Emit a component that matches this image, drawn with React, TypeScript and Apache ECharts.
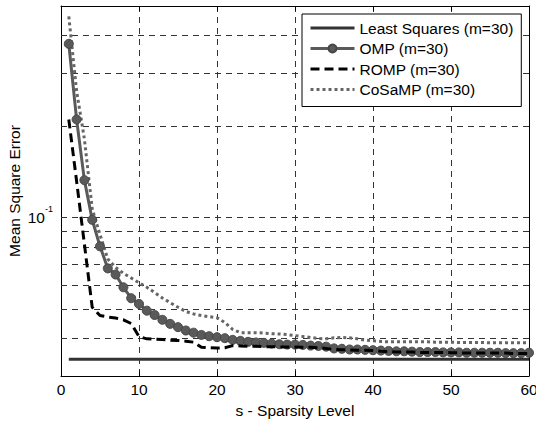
import React, { useEffect, useRef } from 'react';
import * as echarts from 'echarts';

const sLevels = [
  1, 2, 3, 4, 5, 6, 7, 8, 9, 10, 11, 12, 13, 14, 15, 16, 17, 18, 19, 20,
  21, 22, 23, 24, 25, 26, 27, 28, 29, 30, 31, 32, 33, 34, 35, 36, 37, 38, 39, 40,
  41, 42, 43, 44, 45, 46, 47, 48, 49, 50, 51, 52, 53, 54, 55, 56, 57, 58, 59, 60,
];

const lsValues = [
  0.0341, 0.0341, 0.0341, 0.0341, 0.0341, 0.0341, 0.0341, 0.0341, 0.0341, 0.0341,
  0.0341, 0.0341, 0.0341, 0.0341, 0.0341, 0.0341, 0.0341, 0.0341, 0.0341, 0.0341,
  0.0341, 0.0341, 0.0341, 0.0341, 0.0341, 0.0341, 0.0341, 0.0341, 0.0341, 0.0341,
  0.0341, 0.0341, 0.0341, 0.0341, 0.0341, 0.0341, 0.0341, 0.0341, 0.0341, 0.0341,
  0.0341, 0.0341, 0.0341, 0.0341, 0.0341, 0.0341, 0.0341, 0.0341, 0.0341, 0.0341,
  0.0341, 0.0341, 0.0341, 0.0341, 0.0341, 0.0341, 0.0341, 0.0341, 0.0341, 0.0341,
];

const ompValues = [
  0.375, 0.211, 0.133, 0.0984, 0.0804, 0.068, 0.0649, 0.0589, 0.0542, 0.0519,
  0.0493, 0.0477, 0.046, 0.0446, 0.0435, 0.0424, 0.0417, 0.041, 0.0406, 0.0403,
  0.04, 0.0395, 0.0392, 0.0389, 0.0387, 0.0386, 0.0384, 0.0382, 0.0381, 0.0381,
  0.038, 0.0378, 0.0377, 0.0375, 0.037, 0.0369, 0.0367, 0.0367, 0.0366, 0.0365,
  0.0364, 0.0363, 0.0362, 0.0362, 0.0361, 0.036, 0.036, 0.036, 0.0359, 0.0359,
  0.0359, 0.0358, 0.0358, 0.0358, 0.0358, 0.0358, 0.0357, 0.0357, 0.0357, 0.0358,
];

const rompValues = [
  0.211, 0.132, 0.0818, 0.0506, 0.0475, 0.047, 0.0466, 0.046, 0.0447, 0.0405,
  0.0398, 0.0397, 0.0396, 0.0394, 0.0393, 0.0391, 0.0388, 0.0373, 0.0372, 0.0371,
  0.0372, 0.0378, 0.0377, 0.0376, 0.0376, 0.0375, 0.0375, 0.0374, 0.0374, 0.0374,
  0.0373, 0.0373, 0.0372, 0.037, 0.0367, 0.0366, 0.0366, 0.0365, 0.0365, 0.0364,
  0.0362, 0.0361, 0.036, 0.036, 0.036, 0.0359, 0.0359, 0.0359, 0.0359, 0.0358,
  0.0358, 0.0357, 0.0357, 0.0357, 0.0357, 0.0357, 0.0357, 0.0356, 0.0356, 0.0356,
];

const cosampValues = [
  0.462, 0.262, 0.182, 0.107, 0.0879, 0.073, 0.0685, 0.0655, 0.0632, 0.061,
  0.0589, 0.0566, 0.0543, 0.0524, 0.0506, 0.049, 0.0481, 0.0475, 0.0471, 0.0467,
  0.0451, 0.0428, 0.0417, 0.0417, 0.0417, 0.0416, 0.0414, 0.0413, 0.0411, 0.0408,
  0.0405, 0.0402, 0.0399, 0.0398, 0.0401, 0.0402, 0.0401, 0.0398, 0.0394, 0.0392,
  0.039, 0.0389, 0.0389, 0.0389, 0.0389, 0.0389, 0.0389, 0.0388, 0.0388, 0.0388,
  0.0387, 0.0387, 0.0387, 0.0387, 0.0386, 0.0386, 0.0386, 0.0386, 0.0386, 0.0386,
];

const seriesNames = ['Least Squares (m=30)', 'OMP (m=30)', 'ROMP (m=30)', 'CoSaMP (m=30)'];
const yGridValues = [0.04, 0.05, 0.06, 0.07, 0.08, 0.09, 0.1, 0.2, 0.3, 0.4];
const yLabeledValue = 0.1;
const xMin = 0;
const xMax = 60;
const xInterval = 10;
const yMin = 0.03;
const yMax = 0.5;

export default function App() {
  const ref = useRef<HTMLDivElement>(null);

  useEffect(() => {
    if (!ref.current) return;
    const chart = echarts.init(ref.current, null, { renderer: 'svg' });
    const font = '"Liberation Sans", Arial, Helvetica, sans-serif';
    const fs = 15.5;
    const pair = (vals: number[]) => vals.map((v, i) => [sLevels[i], v]);
    const gridDash = { color: '#333', width: 1, type: [6, 5] as number[] };
    const axisLineStyle = { lineStyle: { color: '#000', width: 1 }, onZero: false };
    const tickStyle = { inside: true, length: 5, lineStyle: { color: '#000', width: 1 } };
    const noSymbol = { opacity: 0 };

    chart.setOption({
      animation: false,
      backgroundColor: '#fff',
      textStyle: { fontFamily: font },
      grid: { left: 61, top: 6, right: 7, bottom: 45, containLabel: false, outerBoundsMode: 'none' },
      xAxis: [
        {
          type: 'value',
          min: xMin,
          max: xMax,
          interval: xInterval,
          position: 'bottom',
          name: 's - Sparsity Level',
          nameLocation: 'middle',
          nameGap: 26,
          nameMoveOverlap: false,
          nameTextStyle: { fontSize: fs, color: '#000', fontFamily: font },
          axisLine: axisLineStyle,
          axisTick: tickStyle,
          axisLabel: { fontSize: fs, color: '#000', margin: 5, fontFamily: font },
          splitLine: { show: true, lineStyle: gridDash },
        },
        {
          type: 'value',
          min: xMin,
          max: xMax,
          interval: xInterval,
          position: 'top',
          axisLine: axisLineStyle,
          axisTick: tickStyle,
          axisLabel: { show: false },
          splitLine: { show: false },
        },
      ],
      yAxis: [
        {
          type: 'log',
          logBase: 10,
          min: yMin,
          max: yMax,
          position: 'left',
          name: 'Mean Square Error',
          nameLocation: 'middle',
          nameGap: 39,
          nameMoveOverlap: false,
          nameTextStyle: { fontSize: fs, color: '#000', fontFamily: font },
          axisLine: axisLineStyle,
          axisTick: tickStyle,
          axisLabel: {
            margin: 8,
            color: '#000',
            fontFamily: font,
            formatter: (v: number) =>
              Math.abs(v - yLabeledValue) < 1e-9 ? '{b|10}{s|-1}' : '',
            rich: {
              b: { fontSize: fs, lineHeight: 26, color: '#000', fontFamily: font },
              s: { fontSize: 9, lineHeight: 10, verticalAlign: 'top', color: '#000', fontFamily: font },
            },
          },
          splitLine: { show: false },
        },
        {
          type: 'log',
          logBase: 10,
          min: yMin,
          max: yMax,
          position: 'right',
          axisLine: axisLineStyle,
          axisTick: tickStyle,
          axisLabel: { show: false },
          splitLine: { show: false },
        },
      ],
      legend: {
        data: [
          { name: seriesNames[0], itemStyle: noSymbol },
          { name: seriesNames[1] },
          { name: seriesNames[2], itemStyle: noSymbol },
          { name: seriesNames[3], itemStyle: noSymbol },
        ],
        orient: 'vertical',
        left: 302,
        top: 14,
        backgroundColor: '#fff',
        borderColor: '#000',
        borderWidth: 1,
        borderRadius: 0,
        padding: [6, 8, 9, 7],
        itemGap: 4.5,
        itemWidth: 44,
        itemHeight: 10,
        lineStyle: { width: 3 },
        textStyle: { fontSize: fs, color: '#000', fontFamily: font },
        z: 20,
      },
      series: [
        {
          name: 'grid',
          type: 'line',
          data: pair(lsValues),
          symbol: 'none',
          silent: true,
          lineStyle: { opacity: 0, width: 0 },
          z: 1,
          markLine: {
            silent: true,
            z: 1,
            symbol: ['none', 'none'],
            label: { show: false },
            lineStyle: gridDash,
            emphasis: { disabled: true },
            data: yGridValues.map((v) => ({ yAxis: v })),
          },
        },
        {
          name: seriesNames[0],
          type: 'line',
          data: pair(lsValues),
          symbol: 'none',
          lineStyle: { color: '#333', width: 3 },
          itemStyle: { color: '#333' },
          z: 6,
        },
        {
          name: seriesNames[1],
          type: 'line',
          data: pair(ompValues),
          symbol: 'circle',
          symbolSize: 9,
          lineStyle: { color: '#5a5a5a', width: 3 },
          itemStyle: { color: '#5a5a5a', borderColor: '#474747', borderWidth: 1 },
          z: 7,
        },
        {
          name: seriesNames[2],
          type: 'line',
          data: pair(rompValues),
          symbol: 'none',
          lineStyle: { color: '#000', width: 3, type: [9, 5] },
          itemStyle: { color: '#000' },
          z: 8,
        },
        {
          name: seriesNames[3],
          type: 'line',
          data: pair(cosampValues),
          symbol: 'none',
          lineStyle: { color: '#666', width: 3, type: [3, 3] },
          itemStyle: { color: '#666' },
          z: 6,
        },
      ],
    });

    return () => chart.dispose();
  }, []);

  return (
    <div
      ref={ref}
      style={{ position: 'absolute', left: 0, top: 0, width: 536, height: 421, background: '#fff' }}
    />
  );
}
